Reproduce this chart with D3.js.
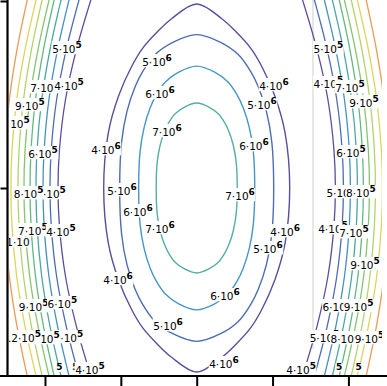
<!DOCTYPE html>
<html><head><meta charset="utf-8">
<script src="https://cdn.jsdelivr.net/npm/d3@7"></script>
<style>body{margin:0;background:#fff}svg{display:block}</style>
</head><body><svg id="c" width="387" height="386"></svg>
<script>
// ---------- data ----------
const xTicks = [-2, -1, 0, 1, 2];
const yTicks = [0, 2.5];

// edge bands: level names (highest first) and colours
const bandLevels = ["1.2·10⁶","1.1·10⁶","1·10⁶","9·10⁵","8·10⁵","7·10⁵","6·10⁵","5·10⁵","4·10⁵"];
const bandColors = ["#ec9a55","#dfd35c","#b4d36a","#86c46e","#62b882","#4ca6a6","#4590c4","#4e6cb3","#5b4e9e"];
const bandY = [2.55, 1.85, 1.18, 0.5, 0, -0.5, -1.18, -1.85, -2.55];
const leftBandX = [
  [-2.226,-2.369,-2.470,-2.527,-2.540,-2.527,-2.470,-2.369,-2.226],
  [-2.109,-2.263,-2.373,-2.435,-2.448,-2.435,-2.373,-2.263,-2.109],
  [-2.029,-2.178,-2.283,-2.342,-2.356,-2.342,-2.283,-2.178,-2.029],
  [-1.938,-2.092,-2.201,-2.263,-2.277,-2.263,-2.201,-2.092,-1.938],
  [-1.871,-2.020,-2.125,-2.184,-2.197,-2.184,-2.125,-2.020,-1.871],
  [-1.780,-1.934,-2.043,-2.105,-2.118,-2.105,-2.043,-1.934,-1.780],
  [-1.674,-1.834,-1.948,-2.012,-2.026,-2.012,-1.948,-1.834,-1.674],
  [-1.542,-1.720,-1.847,-1.918,-1.934,-1.918,-1.847,-1.720,-1.542],
  [-1.384,-1.586,-1.730,-1.810,-1.828,-1.810,-1.730,-1.586,-1.384]
];
const rightBandX = [
  [2.226,2.369,2.470,2.527,2.540,2.527,2.470,2.369,2.226],
  [2.109,2.263,2.373,2.435,2.448,2.435,2.373,2.263,2.109],
  [2.029,2.178,2.283,2.342,2.356,2.342,2.283,2.178,2.029],
  [1.938,2.092,2.201,2.263,2.277,2.263,2.201,2.092,1.938],
  [1.871,2.020,2.125,2.184,2.197,2.184,2.125,2.020,1.871],
  [1.780,1.934,2.043,2.105,2.118,2.105,2.043,1.934,1.780],
  [1.674,1.834,1.948,2.012,2.026,2.012,1.948,1.834,1.674],
  [1.542,1.720,1.847,1.918,1.934,1.918,1.847,1.720,1.542],
  [1.384,1.586,1.730,1.810,1.828,1.810,1.730,1.586,1.384]
];

// central closed contours
const centerLevels = ["4·10⁶","5·10⁶","6·10⁶","7·10⁶"];
const centerColors = ["#5b4e9e","#4e6cb3","#4596c8","#52b0a2"];
const contour4e6 = [[0,2.46],[0.331,2.263],[0.515,2.091],[0.711,1.87],[0.858,1.624],[1.03,1.23],[1.165,0.738],[1.226,0],[1.165,-0.738],[1.03,-1.23],[0.858,-1.624],[0.711,-1.87],[0.515,-2.091],[0.331,-2.263],[0,-2.46],[-0.331,-2.263],[-0.515,-2.091],[-0.711,-1.87],[-0.858,-1.624],[-1.03,-1.23],[-1.165,-0.738],[-1.226,0],[-1.165,0.738],[-1.03,1.23],[-0.858,1.624],[-0.711,1.87],[-0.515,2.091],[-0.331,2.263]];
const contour5e6 = [[0,2.05],[0.315,1.948],[0.548,1.784],[0.711,1.558],[0.812,1.353],[0.919,1.025],[0.99,0.615],[1.015,0],[0.99,-0.615],[0.919,-1.025],[0.812,-1.353],[0.711,-1.558],[0.548,-1.784],[0.315,-1.948],[0,-2.05],[-0.315,-1.948],[-0.548,-1.784],[-0.711,-1.558],[-0.812,-1.353],[-0.919,-1.025],[-0.99,-0.615],[-1.015,0],[-0.99,0.615],[-0.919,1.025],[-0.812,1.353],[-0.711,1.558],[-0.548,1.784],[-0.315,1.948]];
const contour6e6 = [[0,1.63],[0.237,1.549],[0.413,1.418],[0.536,1.239],[0.612,1.076],[0.692,0.815],[0.746,0.489],[0.765,0],[0.746,-0.489],[0.692,-0.815],[0.612,-1.076],[0.536,-1.239],[0.413,-1.418],[0.237,-1.549],[0,-1.63],[-0.237,-1.549],[-0.413,-1.418],[-0.536,-1.239],[-0.612,-1.076],[-0.692,-0.815],[-0.746,-0.489],[-0.765,0],[-0.746,0.489],[-0.692,0.815],[-0.612,1.076],[-0.536,1.239],[-0.413,1.418],[-0.237,1.549]];
const contour7e6 = [[0,1.136],[0.166,1.079],[0.288,0.988],[0.374,0.863],[0.427,0.75],[0.483,0.568],[0.521,0.341],[0.534,0],[0.521,-0.341],[0.483,-0.568],[0.427,-0.75],[0.374,-0.863],[0.288,-0.988],[0.166,-1.079],[0,-1.136],[-0.166,-1.079],[-0.288,-0.988],[-0.374,-0.863],[-0.427,-0.75],[-0.483,-0.568],[-0.521,-0.341],[-0.534,0],[-0.521,0.341],[-0.483,0.568],[-0.427,0.75],[-0.374,0.863],[-0.288,0.988],[-0.166,1.079]];

// thin panel edges seen inside the frame
const panelEdges = [
  {x: 1.533, y0: 2.6, y1: -2.15, color: "#cfcfcf", w: 1},
  {x: 2.456, y0: 2.6, y1: -2.24, color: "#111", w: 1.5}
];

// contour labels: base text, exponent, centre (data units)
const labels = [
  // left band
  {t:"5·10",e:"5",x:-1.710,y:1.858},
  {t:"7·10",e:"5",x:-2.000,y:1.337},
  {t:"4·10",e:"5",x:-1.683,y:1.364},
  {t:"9·10",e:"5",x:-2.199,y:1.096},
  {t:"10",e:"5",x:-2.329,y:0.856},
  {t:"6·10",e:"5",x:-2.026,y:0.455},
  {t:"5·10",e:"5",x:-1.920,y:-0.080},
  {t:"8·10",e:"5",x:-2.215,y:-0.080},
  {t:"7·10",e:"5",x:-2.159,y:-0.575},
  {t:"4·10",e:"5",x:-1.789,y:-0.588},
  {t:"1·10",e:"",x:-2.356,y:-0.722},
  {t:"9·10",e:"5",x:-2.150,y:-1.591},
  {t:"6·10",e:"5",x:-1.770,y:-1.551},
  {t:"9·10",e:"5",x:-1.690,y:-2.005},
  {t:"8·10",e:"5",x:-2.000,y:-2.019},
  {t:".2·10",e:"5",x:-2.270,y:-2.005},
  {t:"",e:"5",x:-1.809,y:-2.453},
  {t:"",e:"5",x:-1.598,y:-2.453},
  {t:"4·10",e:"5",x:-1.407,y:-2.433},
  // centre
  {t:"5·10",e:"6",x:-0.523,y:1.684},
  {t:"6·10",e:"6",x:-0.484,y:1.257},
  {t:"7·10",e:"6",x:-0.392,y:0.749},
  {t:"4·10",e:"6",x:1.019,y:1.364},
  {t:"5·10",e:"6",x:0.861,y:1.110},
  {t:"6·10",e:"6",x:0.755,y:0.561},
  {t:"4·10",e:"6",x:-1.196,y:0.508},
  {t:"5·10",e:"6",x:-0.985,y:-0.040},
  {t:"7·10",e:"6",x:0.571,y:-0.107},
  {t:"6·10",e:"6",x:-0.774,y:-0.321},
  {t:"7·10",e:"6",x:-0.484,y:-0.548},
  {t:"4·10",e:"6",x:1.165,y:-0.588},
  {t:"5·10",e:"6",x:0.940,y:-0.816},
  {t:"4·10",e:"6",x:-1.037,y:-1.230},
  {t:"6·10",e:"6",x:0.373,y:-1.444},
  {t:"5·10",e:"6",x:-0.378,y:-1.845},
  {t:"4·10",e:"6",x:0.360,y:-2.353},
  // right band
  {t:"5·10",e:"5",x:1.735,y:1.858},
  {t:"4·10",e:"5",x:1.735,y:1.390},
  {t:"7·10",e:"5",x:2.021,y:1.337},
  {t:"9·10",e:"5",x:2.205,y:1.136},
  {t:"6·10",e:"5",x:2.034,y:0.468},
  {t:"5·10",e:"5",x:1.905,y:-0.067},
  {t:"8·10",e:"5",x:2.165,y:-0.067},
  {t:"4·10",e:"5",x:1.797,y:-0.548},
  {t:"7·10",e:"5",x:2.073,y:-0.602},
  {t:"9·10",e:"5",x:2.218,y:-1.029},
  {t:"6·10",e:"5",x:1.855,y:-1.591},
  {t:"9·10",e:"5",x:2.135,y:-1.591},
  {t:"5·10",e:"5",x:1.685,y:-2.005},
  {t:"8·10",e:"5",x:1.960,y:-2.019},
  {t:"9·10",e:"5",x:2.278,y:-2.019},
  {t:"4·10",e:"5",x:1.376,y:-2.433},
  {t:"",e:"5",x:1.877,y:-2.447},
  {t:"",e:"5",x:2.133,y:-2.447}
];

// ---------- drawing ----------
const svg = d3.select("#c");
const x = d3.scaleLinear().domain([-2.5, 2.5]).range([7.05, 386.35]);
const y = d3.scaleLinear().domain([-2.5, 2.5]).range([375, 1]);

svg.append("defs").append("clipPath").attr("id","plot")
  .append("rect").attr("x", 9).attr("y", 0).attr("width", 373).attr("height", 375);

const plot = svg.append("g").attr("clip-path","url(#plot)");

const lineOpen = d3.line().x(d => x(d[0])).y(d => y(d[1])).curve(d3.curveCatmullRom.alpha(0.5));
const lineClosed = d3.line().x(d => x(d[0])).y(d => y(d[1])).curve(d3.curveCatmullRomClosed.alpha(0.5));

// panel edges
plot.selectAll("line.edge").data(panelEdges).join("line")
  .attr("class","edge")
  .attr("x1", d => x(d.x)).attr("x2", d => x(d.x))
  .attr("y1", d => y(d.y0)).attr("y2", d => y(d.y1))
  .attr("stroke", d => d.color).attr("stroke-width", d => d.w);

// bands
[leftBandX, rightBandX].forEach(side => {
  side.forEach((xs, i) => {
    plot.append("path")
      .attr("d", lineOpen(xs.map((v, k) => [v, bandY[k]])))
      .attr("fill","none").attr("stroke", bandColors[i]).attr("stroke-width", 1.3);
  });
});

// centre contours
[contour4e6, contour5e6, contour6e6, contour7e6].forEach((pts, i) => {
  plot.append("path").attr("d", lineClosed(pts))
    .attr("fill","none").attr("stroke", centerColors[i]).attr("stroke-width", 1.4);
});

// labels with white backing
labels.forEach(l => {
  const g = plot.append("g");
  const r = g.append("rect").attr("fill","#fff");
  const t = g.append("text")
    .attr("x", x(l.x)).attr("y", y(l.y) + 3.8)
    .attr("text-anchor","middle")
    .attr("font-family","DejaVu Sans, sans-serif")
    .attr("font-size", 10.5).attr("fill","#000");
  t.append("tspan").text(l.t);
  if (l.e) t.append("tspan").attr("font-size", 9).attr("font-weight","bold").attr("dy", -4.8).text(l.e);
  const b = t.node().getBBox();
  r.attr("x", b.x - 0.5).attr("y", b.y + 1).attr("width", b.width + 1).attr("height", b.height - 1.5);
});

// axes
const gx = svg.append("g").attr("transform","translate(0,376)")
  .call(d3.axisBottom(x).tickValues(xTicks).tickSize(10).tickFormat(""));
gx.select(".domain").remove();
gx.selectAll(".tick line").attr("stroke","#000").attr("stroke-width", 2);
svg.append("line").attr("x1",0).attr("x2",387).attr("y1",376).attr("y2",376)
  .attr("stroke","#000").attr("stroke-width",2.2);

const gy = svg.append("g").attr("transform","translate(7.5,0)")
  .call(d3.axisLeft(y).tickValues(yTicks).tickSize(7).tickFormat(""));
gy.select(".domain").remove();
gy.selectAll(".tick line").attr("stroke","#000").attr("stroke-width", 2);
svg.append("line").attr("x1",7.5).attr("x2",7.5).attr("y1",0).attr("y2",377)
  .attr("stroke","#000").attr("stroke-width",2.2);
</script></body></html>
